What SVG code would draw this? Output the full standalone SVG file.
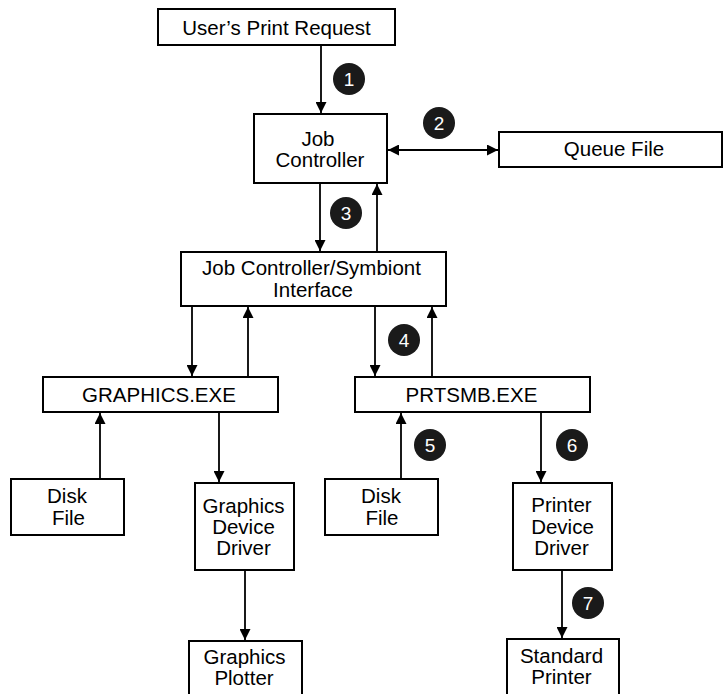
<svg xmlns="http://www.w3.org/2000/svg" width="723" height="694" viewBox="0 0 723 694">
<defs>
<marker id="ah" markerUnits="userSpaceOnUse" markerWidth="12" markerHeight="11" refX="11" refY="5.5" orient="auto-start-reverse">
<path d="M0,0 L11,5.5 L0,11 z" fill="#000"/>
</marker>
</defs>
<style>
.box{fill:#fff;stroke:#000;stroke-width:2}
.t{font-family:"Liberation Sans",Arial,Helvetica,sans-serif;font-size:20.5px;fill:#000;text-anchor:middle}
.c{stroke:#000;stroke-width:1.8;fill:none;marker-end:url(#ah)}
.b circle{fill:#1a1a1a}
.b text{font-family:"Liberation Sans",Arial,sans-serif;font-size:19px;fill:#fff;text-anchor:middle}
</style>
<rect width="723" height="694" fill="#fff"/>
<g id="connectors">
<line class="c" x1="321" y1="45" x2="321" y2="113"/>
<line class="c" x1="388" y1="150" x2="498" y2="150" style="marker-start:url(#ah)"/>
<line class="c" x1="320" y1="183" x2="320" y2="251"/>
<line class="c" x1="377" y1="252" x2="377" y2="184"/>
<line class="c" x1="192" y1="306" x2="192" y2="376"/>
<line class="c" x1="248" y1="377" x2="248" y2="307"/>
<line class="c" x1="375" y1="306" x2="375" y2="376"/>
<line class="c" x1="432" y1="377" x2="432" y2="307"/>
<line class="c" x1="100" y1="479" x2="100" y2="413"/>
<line class="c" x1="219" y1="412" x2="219" y2="482"/>
<line class="c" x1="401" y1="479" x2="401" y2="413"/>
<line class="c" x1="541" y1="412" x2="541" y2="482"/>
<line class="c" x1="245" y1="570" x2="245" y2="640"/>
<line class="c" x1="562" y1="570" x2="562" y2="638"/>
</g>
<g id="user-request"><rect class="box" x="158" y="9" width="237" height="36"/><text class="t" x="276.5" y="35">User’s Print Request</text></g>
<g id="job-controller"><rect class="box" x="254" y="114" width="133" height="69"/><text class="t" x="318" y="146">Job</text><text class="t" x="320" y="167">Controller</text></g>
<g id="queue-file"><rect class="box" x="499" y="132" width="223" height="35"/><text class="t" x="614" y="156">Queue File</text></g>
<g id="jc-symbiont"><rect class="box" x="181" y="252" width="265" height="54"/><text class="t" x="311.5" y="275">Job Controller/Symbiont</text><text class="t" x="313" y="297">Interface</text></g>
<g id="graphics-exe"><rect class="box" x="43" y="377" width="235" height="35"/><text class="t" x="159" y="402">GRAPHICS.EXE</text></g>
<g id="prtsmb-exe"><rect class="box" x="355" y="377" width="235" height="35"/><text class="t" x="471.5" y="402">PRTSMB.EXE</text></g>
<g id="disk-file-1"><rect class="box" x="11" y="479" width="113" height="56"/><text class="t" x="67" y="503">Disk</text><text class="t" x="68.5" y="525">File</text></g>
<g id="graphics-driver"><rect class="box" x="195" y="483" width="99" height="87"/><text class="t" x="243.5" y="513">Graphics</text><text class="t" x="243.5" y="534">Device</text><text class="t" x="243.5" y="555">Driver</text></g>
<g id="disk-file-2"><rect class="box" x="325" y="479" width="113" height="56"/><text class="t" x="381" y="503">Disk</text><text class="t" x="382" y="525">File</text></g>
<g id="printer-driver"><rect class="box" x="513" y="483" width="99" height="87"/><text class="t" x="561.5" y="512">Printer</text><text class="t" x="562.5" y="534">Device</text><text class="t" x="561.5" y="555">Driver</text></g>
<g id="graphics-plotter"><rect class="box" x="189" y="641" width="113" height="60"/><text class="t" x="244.5" y="664">Graphics</text><text class="t" x="244" y="685">Plotter</text></g>
<g id="standard-printer"><rect class="box" x="507" y="639" width="112" height="62"/><text class="t" x="561.5" y="663">Standard</text><text class="t" x="561.5" y="684">Printer</text></g>
<g id="badge-1" class="b"><circle cx="349" cy="79" r="16"/><text x="349" y="86">1</text></g>
<g id="badge-2" class="b"><circle cx="439" cy="123" r="16"/><text x="439" y="130">2</text></g>
<g id="badge-3" class="b"><circle cx="346" cy="213" r="16"/><text x="346" y="220">3</text></g>
<g id="badge-4" class="b"><circle cx="404" cy="340" r="16"/><text x="404" y="347">4</text></g>
<g id="badge-5" class="b"><circle cx="430" cy="445" r="16"/><text x="430" y="452">5</text></g>
<g id="badge-6" class="b"><circle cx="572" cy="445" r="16"/><text x="572" y="452">6</text></g>
<g id="badge-7" class="b"><circle cx="588" cy="603" r="16"/><text x="588" y="610">7</text></g>
</svg>
